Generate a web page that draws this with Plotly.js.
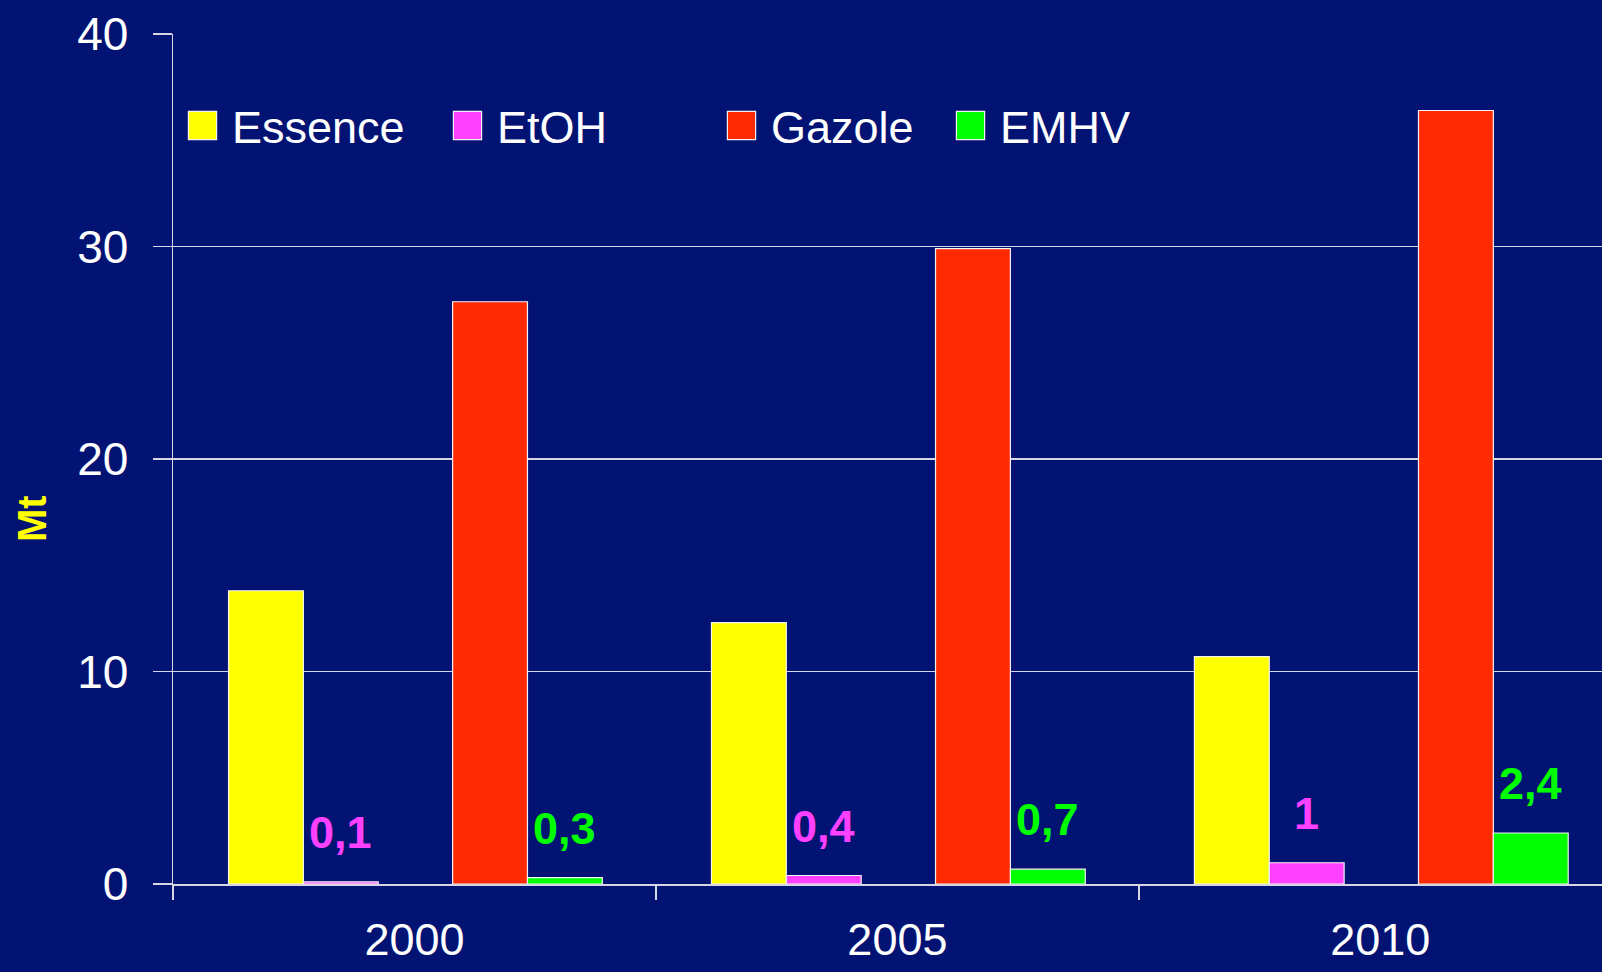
<!DOCTYPE html>
<html><head><meta charset="utf-8">
<script src="https://cdn.plot.ly/plotly-3.0.1.min.js"></script>
<style>html,body{margin:0;padding:0;background:#031374;} #chart{width:1602px;height:972px;}</style>
</head><body><div id="chart"></div>
<script>
// ---- data ----
const years = ['2000', '2005', '2010'];
const essence = [13.8, 12.3, 10.7];
const etoh = [0.1, 0.4, 1];
const gazole = [27.4, 29.9, 36.4];
const emhv = [0.3, 0.7, 2.4];
const yTicks = [0, 10, 20, 30, 40];
const yTitle = 'Mt';

// ---- style ----
const BG = '#031374';
const LINE = '#d6d6e4';
const FONT = 'Arial, "Liberation Sans", sans-serif';
const colors = {Essence: '#FFFF00', EtOH: '#FF40FF', Gazole: '#FF2A00', EMHV: '#00FF00'};
const W = 0.155;
const offsets = {Essence: -0.385, EtOH: -0.230, Gazole: 0.079, EMHV: 0.234};
const legendW = {Essence: 201, EtOH: 210, Gazole: 165, EMHV: 150};

function barTrace(name, vals) {
  return {
    type: 'bar', name: name, x: years, y: vals,
    offset: offsets[name], width: W,
    marker: {color: colors[name], line: {color: '#f2f2f2', width: 1.2}},
    legendwidth: legendW[name], hoverinfo: 'skip'
  };
}
const data = [
  barTrace('Essence', essence),
  barTrace('EtOH', etoh),
  barTrace('Gazole', gazole),
  barTrace('EMHV', emhv)
];

function fmt(v) { return String(v).replace('.', ','); }
const annotations = [];
[['EtOH', etoh], ['EMHV', emhv]].forEach(([name, vals]) => {
  vals.forEach((v, i) => {
    annotations.push({
      xref: 'x', yref: 'y', x: i + offsets[name] + W / 2, y: v,
      text: fmt(v), showarrow: false, xanchor: 'center', yanchor: 'bottom', yshift: 22,
      font: {family: FONT, size: 45, color: colors[name], weight: 'bold'}
    });
  });
});
annotations.push({
  xref: 'paper', yref: 'paper', x: -0.0987, y: 0.4304, text: yTitle, textangle: -90,
  showarrow: false, xanchor: 'center', yanchor: 'middle',
  font: {family: FONT, size: 40, color: '#FFFF00', weight: 'bold'}
});

const layout = {
  width: 1602, height: 972,
  paper_bgcolor: BG, plot_bgcolor: BG,
  margin: {l: 173, r: 0, t: 34, b: 88, pad: 0},
  font: {family: FONT, color: '#ffffff', size: 44},
  barmode: 'group',
  showlegend: true,
  xaxis: {
    type: 'category', range: [-0.5, 2.459], tickson: 'boundaries',
    ticks: 'outside', ticklen: 14, tickwidth: 1.5, tickcolor: LINE,
    showgrid: false, showline: true, linecolor: LINE, linewidth: 1.5,
    tickfont: {family: FONT, size: 45, color: '#ffffff'}, ticklabelstandoff: 15,
    zeroline: false, fixedrange: true
  },
  yaxis: {
    range: [0, 40], tickvals: yTicks, ticktext: yTicks.map(String),
    ticks: 'outside', ticklen: 19, tickwidth: 1.5, tickcolor: LINE,
    showgrid: true, gridcolor: LINE, gridwidth: 1.5,
    showline: true, linecolor: LINE, linewidth: 1.5,
    tickfont: {family: FONT, size: 46, color: '#ffffff'}, ticklabelstandoff: 15,
    zeroline: false, fixedrange: true
  },
  legend: {
    orientation: 'h', x: 0, xanchor: 'left', y: 0.892, yanchor: 'middle',
    font: {family: FONT, size: 45, color: '#ffffff'},
    bgcolor: 'rgba(0,0,0,0)', itemwidth: 49, traceorder: 'normal'
  },
  annotations: annotations
};

Plotly.newPlot('chart', data, layout, {staticPlot: true, displayModeBar: false}).then(gd => {
  gd.querySelectorAll('.legend .legendpoints path').forEach(p => {
    const t = p.getAttribute('transform') || '';
    p.setAttribute('transform', t + ' scale(2.35)');
    p.style.vectorEffect = 'non-scaling-stroke';
  });
});
</script>
</body></html>
